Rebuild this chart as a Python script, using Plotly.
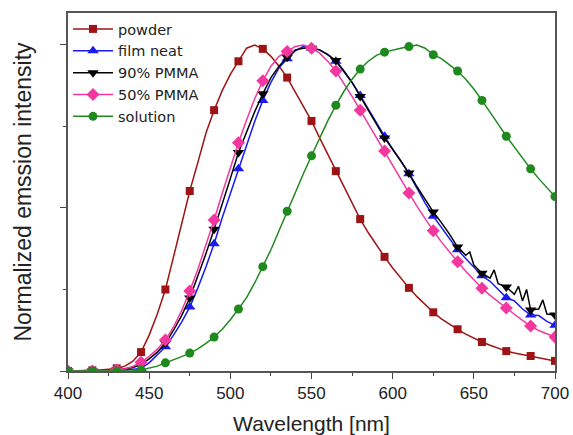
import plotly.graph_objects as go

# ---------------- data ----------------
wl = [400, 405, 410, 415, 420, 425, 430, 435, 440, 445, 450, 455, 460, 465, 470, 475, 480, 485,
      490, 495, 500, 505, 510, 515, 520, 525, 530, 535, 540, 545, 550, 555, 560, 565, 570, 575,
      580, 585, 590, 595, 600, 605, 610, 615, 620, 625, 630, 635, 640, 645, 650, 655, 660, 665,
      670, 675, 680, 685, 690, 695, 700]

powder = [0.0, 0.0, 0.0, 0.002, 0.003, 0.005, 0.008, 0.015, 0.03, 0.058, 0.11, 0.175, 0.25, 0.35,
          0.45, 0.552, 0.64, 0.73, 0.80, 0.86, 0.91, 0.95, 0.99, 1.0, 0.988, 0.965, 0.935, 0.90,
          0.855, 0.81, 0.767, 0.715, 0.665, 0.613, 0.563, 0.513, 0.466, 0.424, 0.385, 0.35, 0.316,
          0.284, 0.255, 0.228, 0.203, 0.18, 0.16, 0.143, 0.128, 0.113, 0.10, 0.089, 0.079, 0.07,
          0.061, 0.055, 0.05, 0.046, 0.041, 0.036, 0.031]

film_neat = [0.0, 0.0, 0.0, 0.0, 0.0, 0.001, 0.002, 0.003, 0.005, 0.008, 0.025, 0.048, 0.074, 0.11,
             0.15, 0.196, 0.255, 0.32, 0.39, 0.47, 0.545, 0.62, 0.69, 0.765, 0.83, 0.885, 0.93,
             0.958, 0.982, 0.995, 0.99, 0.985, 0.97, 0.95, 0.918, 0.885, 0.845, 0.805, 0.762, 0.72,
             0.68, 0.645, 0.605, 0.56, 0.515, 0.475, 0.44, 0.405, 0.372, 0.345, 0.318, 0.292, 0.275,
             0.25, 0.225, 0.215, 0.19, 0.172, 0.17, 0.152, 0.14]

pmma50 = [0.0, 0.0, 0.0, 0.0, 0.001, 0.002, 0.003, 0.007, 0.014, 0.027, 0.045, 0.067, 0.095, 0.135,
          0.185, 0.245, 0.312, 0.385, 0.463, 0.545, 0.625, 0.70, 0.77, 0.835, 0.89, 0.935, 0.965,
          0.98, 0.995, 1.0, 0.99, 0.975, 0.95, 0.92, 0.883, 0.842, 0.80, 0.757, 0.717, 0.675,
          0.632, 0.588, 0.546, 0.505, 0.466, 0.43, 0.396, 0.364, 0.335, 0.306, 0.279, 0.254,
          0.232, 0.212, 0.193, 0.174, 0.155, 0.138, 0.124, 0.113, 0.104]

solution = [0.0, 0.0, 0.0, 0.0, 0.0, 0.0, 0.0, 0.0, 0.001, 0.003, 0.008, 0.015, 0.025, 0.034, 0.044,
            0.055, 0.068, 0.085, 0.104, 0.128, 0.157, 0.19, 0.225, 0.27, 0.32, 0.372, 0.43, 0.49,
            0.547, 0.605, 0.66, 0.715, 0.767, 0.815, 0.858, 0.895, 0.926, 0.95, 0.968, 0.978,
            0.985, 0.99, 0.995, 1.0, 0.99, 0.97, 0.958, 0.94, 0.92, 0.895, 0.865, 0.83, 0.795,
            0.757, 0.72, 0.686, 0.653, 0.62, 0.59, 0.562, 0.535]

# 90% PMMA has a noisy tail, so it is sampled more finely there
wl_pmma90 = [400, 405, 410, 415, 420, 425, 430, 435, 440, 445, 450, 455, 460, 465, 470, 475, 480,
             485, 490, 495, 500, 505, 510, 515, 520, 525, 530, 535, 540, 545, 550, 555, 560, 565,
             570, 575, 580, 585, 590, 595, 600, 605, 610, 615, 620, 625, 630, 635, 640, 645, 647.5,
             650, 655, 660, 662.5, 665, 670, 675, 677.5, 680, 682.5, 685, 690, 692.5, 695, 700]
pmma90 = [0.0, 0.0, 0.0, 0.0, 0.001, 0.002, 0.003, 0.006, 0.011, 0.02, 0.037, 0.058, 0.085, 0.125,
          0.17, 0.224, 0.29, 0.36, 0.435, 0.51, 0.59, 0.67, 0.735, 0.795, 0.85, 0.90, 0.935, 0.962,
          0.985, 0.99, 0.99, 0.985, 0.97, 0.952, 0.92, 0.885, 0.842, 0.80, 0.757, 0.715, 0.68,
          0.645, 0.607, 0.565, 0.525, 0.488, 0.455, 0.42, 0.38, 0.355, 0.365, 0.325, 0.30, 0.285,
          0.31, 0.268, 0.258, 0.235, 0.26, 0.215, 0.25, 0.187, 0.19, 0.218, 0.175, 0.172]

# marker grid: symbols every 15 nm
marker_step = 15

series = [
    ("powder", wl, powder, "#9E1414", "square", 8),
    ("film neat", wl, film_neat, "#1A1AF0", "triangle-up", 10),
    ("90% PMMA", wl_pmma90, pmma90, "#000000", "triangle-down", 10),
    ("50% PMMA", wl, pmma50, "#F2389E", "diamond", 10),
    ("solution", wl, solution, "#1E8A1E", "circle", 9),
]

fig = go.Figure()
for name, xs, ys, color, symbol, msize in series:
    fig.add_trace(go.Scatter(x=xs, y=ys, mode="lines", line=dict(color=color, width=1.5),
                             showlegend=False, hoverinfo="skip"))
    mx = [x for x in xs if (x - 400) % marker_step == 0]
    my = [y for x, y in zip(xs, ys) if (x - 400) % marker_step == 0]
    fig.add_trace(go.Scatter(x=mx, y=my, mode="markers",
                             marker=dict(color=color, symbol=symbol, size=msize,
                                         line=dict(width=0)),
                             showlegend=False))
    fig.add_trace(go.Scatter(x=[None], y=[None], mode="lines+markers", name=name,
                             line=dict(color=color, width=1.5),
                             marker=dict(color=color, symbol=symbol, size=msize,
                                         line=dict(width=0))))

font_family = "Liberation Sans, Arial, sans-serif"
fig.update_layout(
    width=573, height=435,
    margin=dict(l=68, r=18, t=13, b=64, autoexpand=False),
    paper_bgcolor="white", plot_bgcolor="white",
    font=dict(family=font_family, size=17, color="#222"),
    showlegend=True,
    legend=dict(x=0.0, y=1.0, xanchor="left", yanchor="top", bgcolor="rgba(0,0,0,0)",
                font=dict(family="DejaVu Sans, sans-serif", size=14.5, color="#222"),
                tracegroupgap=0, itemwidth=40),
    xaxis=dict(range=[400, 700], tick0=400, dtick=50, ticks="outside", ticklen=6,
               tickwidth=1.3, tickcolor="#444", showgrid=False, zeroline=False,
               showline=True, linecolor="#555", linewidth=1.5, mirror=True,
               tickfont=dict(size=17), automargin=False,
               minor=dict(ticks="outside", ticklen=3, dtick=25, tickcolor="#444", showgrid=False),
               title=dict(text="Wavelength [nm]", font=dict(size=21), standoff=14)),
    yaxis=dict(range=[0, 1.098], tickvals=[0, 0.5, 1.0], ticks="outside", ticklen=6,
               tickwidth=1.3, tickcolor="#444", showticklabels=False, showgrid=False,
               zeroline=False, showline=True, linecolor="#555", linewidth=1.5, mirror=True,
               automargin=False,
               minor=dict(ticks="outside", ticklen=3, tick0=0, dtick=0.25, tickcolor="#444",
                          showgrid=False),
               title=dict(text="Normalized emssion intensity", font=dict(size=23), standoff=22)),
)

fig.write_html("out.html")
